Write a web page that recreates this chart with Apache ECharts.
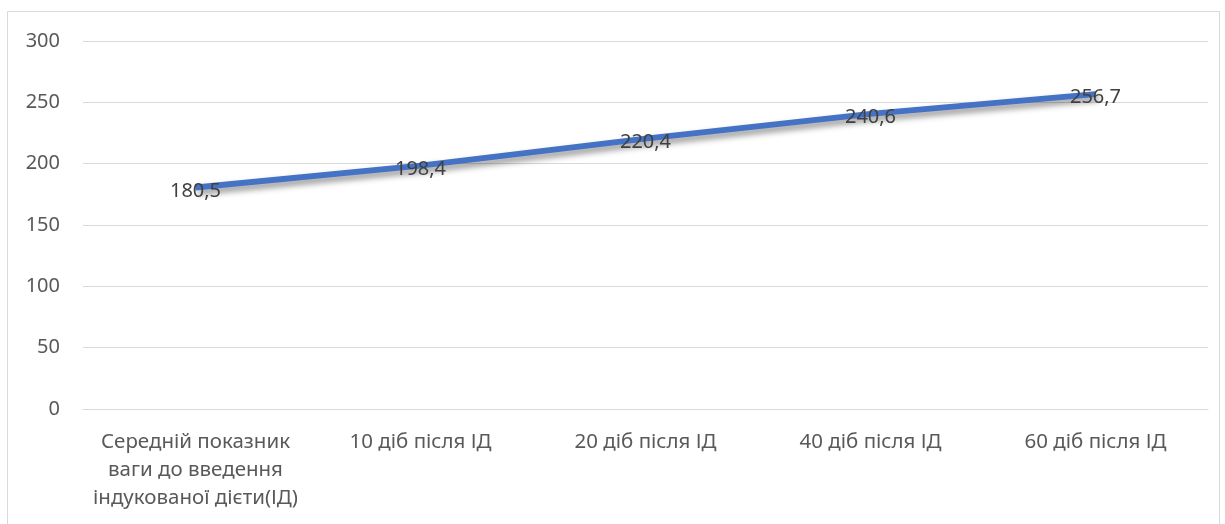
<!DOCTYPE html>
<html>
<head>
<meta charset="utf-8">
<script src="https://cdn.jsdelivr.net/npm/echarts@6/dist/echarts.min.js"></script>
<style>
  html, body { margin: 0; padding: 0; background: #fff; }
  #chart { width: 1225px; height: 524px; }
</style>
</head>
<body>
<div id="chart"></div>
<script>
var categories = [
  'Середній показник\nваги до введення\nіндукованої дієти(ІД)',
  '10 діб після ІД',
  '20 діб після ІД',
  '40 діб після ІД',
  '60 діб після ІД'
];
var weights = [180.5, 198.4, 220.4, 240.6, 256.7];
var yTicks = { min: 0, max: 300, interval: 50 };

var font = '"Noto Sans", sans-serif';
var myChart = echarts.init(document.getElementById('chart'));

var option = {
  animation: false,
  graphic: [{
    type: 'rect',
    shape: { x: 7.5, y: 11.5, width: 1212, height: 520 },
    style: { fill: 'none', stroke: '#d9d9d9', lineWidth: 1 },
    silent: true
  }],
  grid: { left: 83, right: 17, top: 41, bottom: 115 },
  xAxis: {
    type: 'category',
    boundaryGap: true,
    data: categories,
    axisLine: { lineStyle: { color: '#d9d9d9', width: 1 } },
    axisTick: { show: false },
    axisLabel: {
      color: '#595959', fontFamily: font, fontSize: 20.5,
      margin: 19, lineHeight: 28, interval: 0
    }
  },
  yAxis: {
    type: 'value',
    min: yTicks.min, max: yTicks.max, interval: yTicks.interval,
    axisLine: { show: false },
    axisTick: { show: false },
    splitLine: { lineStyle: { color: '#d9d9d9', width: 1 } },
    axisLabel: { color: '#595959', fontFamily: font, fontSize: 20, margin: 23 }
  },
  series: [{
    type: 'line',
    data: weights,
    symbol: 'circle',
    symbolSize: 1,
    showSymbol: true,
    itemStyle: { color: 'rgba(0,0,0,0)' },
    lineStyle: {
      color: '#4472C4', width: 6,
      shadowColor: 'rgba(0,0,0,0.45)', shadowBlur: 6,
      shadowOffsetX: 3, shadowOffsetY: 4
    },
    label: {
      show: true,
      position: 'top',
      distance: 0,
      offset: [0, 14],
      color: '#404040', fontFamily: font, fontSize: 20,
      formatter: function (p) { return String(p.value).replace('.', ','); }
    }
  }]
};
myChart.setOption(option);
</script>
</body>
</html>
